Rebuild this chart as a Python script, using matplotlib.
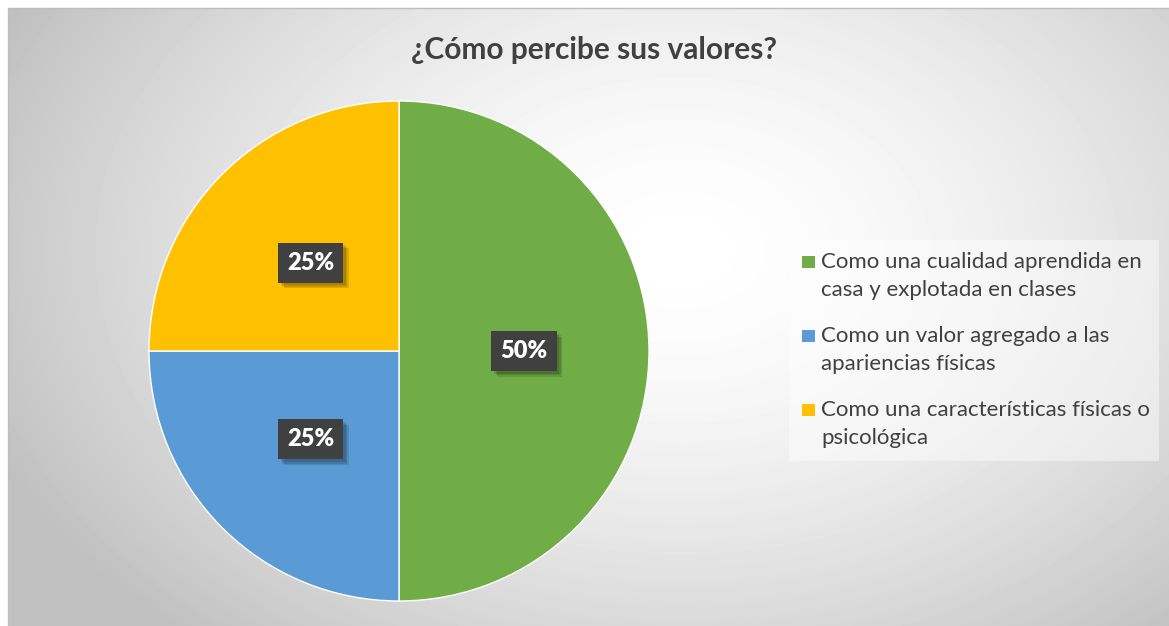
import numpy as np
import matplotlib
matplotlib.use("Agg")
import matplotlib.pyplot as plt
import matplotlib.patheffects as pe
from matplotlib.patches import Rectangle

W, H = 1169, 626

title = "¿Cómo percibe sus valores?"
categories = [
    "Como una cualidad aprendida en\ncasa y explotada en clases",
    "Como un valor agregado a las\napariencias físicas",
    "Como una características físicas o\npsicológica",
]
shares = [50, 25, 25]
colors = ["#70AD47", "#5B9BD5", "#FFC000"]

plt.rcParams["font.family"] = ["Lato", "DejaVu Sans"]
text_color = "#404040"

fig = plt.figure(figsize=(W / 100, H / 100), dpi=100)

# background: soft radial grey gradient, coordinates in pixels
bg = fig.add_axes([0, 0, 1, 1], zorder=0)
bg.set_xlim(0, W)
bg.set_ylim(H, 0)
bg.axis("off")
yy, xx = np.mgrid[8:H, 8:W]
r = np.hypot((xx - 680) / 750, (yy - 250) / 520)
shade = np.clip(1 - 0.25 * r**1.6, 0.75, 1)
bg.imshow(shade, cmap="gray", vmin=0, vmax=1, extent=(8, W, H, 8),
          aspect="auto", interpolation="bilinear")
bg.plot([8, 8, W], [H, 8, 8], color="#bdbdbd", lw=1)

bg.text(594, 59, title, ha="center", va="baseline", fontsize=21.5,
        fontweight="bold", color=text_color)

# legend, drawn by hand so the marker sits on the first line
bg.add_patch(Rectangle((789, 240), 370, 221, fc="white", alpha=0.45, ec="none"))
for i, (lab, c) in enumerate(zip(categories, colors)):
    base = 268 + 74 * i
    bg.add_patch(Rectangle((802, base - 12.5), 12.5, 12.5, fc=c, ec="none"))
    for j, line in enumerate(lab.split("\n")):
        bg.text(821, base + 28.5 * j, line, fontsize=16, color=text_color,
                ha="left", va="baseline")

# pie
ax = fig.add_axes([149 / W, 25 / H, 500 / W, 500 / H], zorder=1)
wedges, _, autotexts = ax.pie(
    shares, colors=colors, startangle=90, counterclock=False,
    autopct=lambda p: f"{p:.0f}%", pctdistance=0.5,
    wedgeprops=dict(edgecolor="white", linewidth=1),
    textprops=dict(color="white", fontsize=17, fontweight="heavy"))
ax.set_xlim(-1, 1)
ax.set_ylim(-1, 1)

# soft shadow: a few offset copies with low alpha
shadow = [pe.withSimplePatchShadow(offset=(k, -k), shadow_rgbFace="black", alpha=0.12)
          for k in (4, 3, 2)]
for t in autotexts:
    t.set_bbox(dict(boxstyle="square,pad=0.38", fc="#404040", ec="none"))
    t.get_bbox_patch().set_path_effects(shadow + [pe.Normal()])

fig.savefig("out.png", dpi=100)
